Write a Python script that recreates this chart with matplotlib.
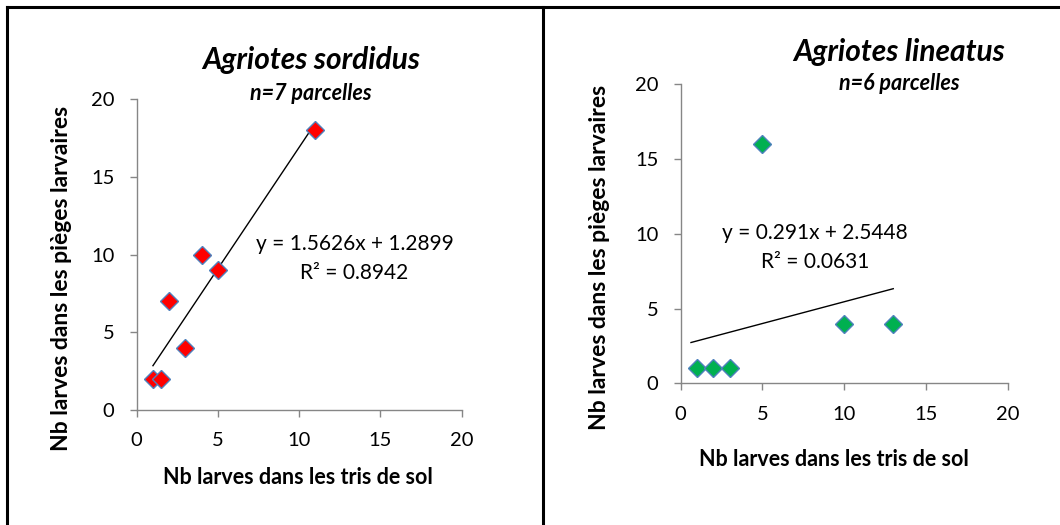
import matplotlib
matplotlib.use("Agg")
import matplotlib.pyplot as plt
from matplotlib.lines import Line2D
import numpy as np

plt.rcParams['font.family'] = ['Lato', 'DejaVu Sans']

# Left panel: Agriotes sordidus
sord_x = [1, 1.5, 2, 3, 4, 5, 11]
sord_y = [2, 2, 7, 4, 10, 9, 18]
sord_slope, sord_intercept = 1.5626, 1.2899
sord_r2 = 0.8942
sord_trend_x = [1, 11]

# Right panel: Agriotes lineatus
lin_x = [1, 2, 3, 5, 10, 13]
lin_y = [1, 1, 1, 16, 4, 4]
lin_slope, lin_intercept = 0.291, 2.5448
lin_r2 = 0.0631
lin_trend_x = [0.63, 13]

ticks = [0, 5, 10, 15, 20]
xlabel = "Nb larves dans les tris de sol"
ylabel = "Nb larves dans les pièges larvaires"

W, H = 1060, 525
fig = plt.figure(figsize=(W / 100, H / 100), dpi=100)

def fx(px):
    return px / W

def fy(py):
    return 1 - py / H

axL = fig.add_axes([fx(136.7), fy(410), fx(461.7 - 136.7), (410 - 99.3) / H])
axR = fig.add_axes([fx(680.7), fy(383.3), fx(1007.7 - 680.7), (383.3 - 84.3) / H])

spine_col = '#868686'

def style(ax):
    ax.set_xlim(0, 20)
    ax.set_ylim(0, 20)
    ax.set_xticks(ticks)
    ax.set_yticks(ticks)
    ax.set_xticklabels([str(t) for t in ticks])
    ax.set_yticklabels([str(t) for t in ticks])
    for s in ['top', 'right']:
        ax.spines[s].set_visible(False)
    for s in ['left', 'bottom']:
        ax.spines[s].set_color(spine_col)
        ax.spines[s].set_linewidth(1.0)
    ax.tick_params(axis='both', direction='out', length=5, width=1.0,
                   color=spine_col, labelsize=14.5, labelcolor='black')
    ax.tick_params(axis='x', pad=11)
    ax.tick_params(axis='y', pad=11)
    ax.patch.set_alpha(0)

style(axL)
style(axR)

# Left plot
tx = np.array(sord_trend_x)
axL.plot(tx, sord_slope * tx + sord_intercept, color='black', lw=1.0, zorder=2)
axL.plot(sord_x, sord_y, linestyle='none', marker='D', ms=8.8,
         markerfacecolor='#FF0000', markeredgecolor='#4F81BD', markeredgewidth=1.0,
         zorder=3, clip_on=False)
axL.text(13.4, 10.7, f"y = {sord_slope}x + {sord_intercept}", ha='center', va='center', fontsize=15)
axL.text(13.4, 8.8, f"R² = {sord_r2}", ha='center', va='center', fontsize=15)

# Right plot
tx = np.array(lin_trend_x)
axR.plot(tx, lin_slope * tx + lin_intercept, color='black', lw=1.0, zorder=2)
axR.plot(lin_x, lin_y, linestyle='none', marker='D', ms=8.8,
         markerfacecolor='#00B050', markeredgecolor='#4F81BD', markeredgewidth=1.0,
         zorder=3, clip_on=False)
axR.text(8.2, 10.05, f"y = {lin_slope}x + {lin_intercept}", ha='center', va='center', fontsize=15)
axR.text(8.2, 8.1, f"R² = {lin_r2}", ha='center', va='center', fontsize=15)

# Axis labels (placed in figure coords)
fig.text(fx(298), fy(477), xlabel, ha='center', va='center', fontsize=15.5, fontweight='bold')
fig.text(fx(62), fy(278), ylabel, ha='center', va='center', fontsize=16.5, fontweight='bold', rotation=90)
fig.text(fx(834), fy(460), xlabel, ha='center', va='center', fontsize=15.5, fontweight='bold')
fig.text(fx(600), fy(257), ylabel, ha='center', va='center', fontsize=16.5, fontweight='bold', rotation=90)

# Titles
fig.text(fx(311), fy(60), "Agriotes sordidus", ha='center', va='center', fontsize=21.5,
         fontweight='bold', fontstyle='italic')
fig.text(fx(311), fy(93), "n=7 parcelles", ha='center', va='center', fontsize=15.5,
         fontweight='bold', fontstyle='italic')
fig.text(fx(899), fy(52), "Agriotes lineatus", ha='center', va='center', fontsize=21.5,
         fontweight='bold', fontstyle='italic')
fig.text(fx(899), fy(83), "n=6 parcelles", ha='center', va='center', fontsize=15.5,
         fontweight='bold', fontstyle='italic')

# Frame lines
lw = 2.2
fig.add_artist(Line2D([fx(7), 1.0], [fy(7), fy(7)], color='black', lw=lw, transform=fig.transFigure))
fig.add_artist(Line2D([fx(7), fx(7)], [0.0, fy(7)], color='black', lw=lw, transform=fig.transFigure))
fig.add_artist(Line2D([fx(543), fx(543)], [0.0, fy(7)], color='black', lw=lw, transform=fig.transFigure))

fig.savefig("out.png", dpi=100)
